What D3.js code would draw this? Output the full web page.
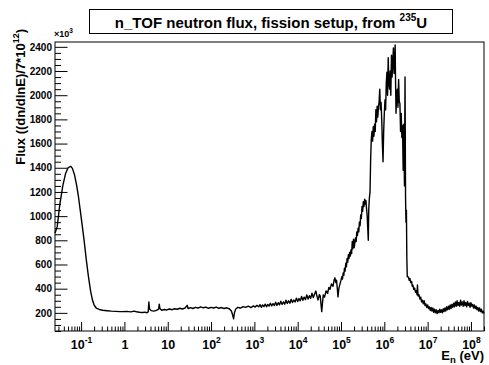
<!DOCTYPE html>
<html>
<head>
<meta charset="utf-8">
<title>n_TOF flux</title>
<script src="https://cdn.jsdelivr.net/npm/d3@7"></script>
<style>
  body { margin: 0; background: #fff; }
  text { font-family: "Liberation Sans", Arial, sans-serif; font-weight: bold; }
</style>
</head>
<body>
<script>
// data: [log10(E/eV), flux in units of 1e3]
const thermal = [
  [-1.60, 860], [-1.55, 915], [-1.49, 1100], [-1.42, 1255], [-1.36, 1350], [-1.30, 1400],
  [-1.24, 1412], [-1.20, 1395], [-1.15, 1340], [-1.10, 1250], [-1.06, 1160], [-1.02, 1050],
  [-0.98, 940], [-0.93, 800], [-0.88, 640], [-0.83, 500], [-0.78, 380], [-0.74, 310],
  [-0.70, 265], [-0.65, 240], [-0.58, 228], [-0.50, 222], [-0.40, 218], [-0.30, 214],
  [-0.20, 212], [-0.10, 210]
];
const epithermal = [
  [-0.05, 210], [0.05, 212], [0.15, 208], [0.22, 214], [0.28, 209], [0.35, 205], [0.42, 203],
  [0.48, 206], [0.52, 200], [0.55, 210], [0.565, 290], [0.58, 232], [0.62, 218], [0.68, 214],
  [0.74, 220], [0.79, 230], [0.805, 272], [0.82, 236], [0.86, 222], [0.92, 228], [0.98, 224],
  [1.04, 232], [1.10, 226], [1.16, 234], [1.22, 230], [1.28, 238], [1.34, 232], [1.40, 240],
  [1.45, 262], [1.47, 236], [1.53, 244], [1.58, 236], [1.64, 246], [1.70, 240], [1.76, 250],
  [1.82, 242], [1.88, 248], [1.94, 238], [2.00, 246], [2.06, 240], [2.12, 248], [2.18, 238],
  [2.24, 244], [2.30, 236], [2.36, 242], [2.42, 234], [2.47, 215], [2.50, 180], [2.52, 150],
  [2.54, 200], [2.57, 232], [2.62, 246], [2.68, 240], [2.74, 252], [2.80, 246], [2.86, 256],
  [2.92, 244], [2.98, 258], [3.02, 248], [3.06, 262], [3.10, 250], [3.13, 268], [3.16, 246],
  [3.19, 266], [3.22, 252], [3.25, 272], [3.28, 250], [3.31, 270], [3.34, 256], [3.37, 280],
  [3.40, 258], [3.43, 276], [3.46, 260], [3.49, 288], [3.52, 262], [3.55, 284], [3.58, 266],
  [3.61, 296], [3.64, 270], [3.67, 290], [3.70, 272], [3.73, 304], [3.76, 278], [3.79, 300],
  [3.82, 280], [3.85, 312], [3.88, 286], [3.91, 306], [3.94, 290], [3.97, 322], [4.00, 294],
  [4.03, 318], [4.06, 300], [4.09, 336], [4.12, 304], [4.15, 330], [4.18, 310], [4.21, 348],
  [4.24, 314], [4.27, 342], [4.30, 320], [4.33, 362], [4.36, 326], [4.39, 356], [4.42, 380],
  [4.45, 330], [4.47, 307], [4.50, 350], [4.52, 340], [4.555, 210]
];
const fast = [
  [4.59, 349], [4.62, 330], [4.655, 382], [4.69, 360], [4.72, 410], [4.746, 395], [4.78, 440],
  [4.816, 420], [4.84, 470], [4.86, 490], [4.88, 450], [4.897, 470], [4.92, 380], [4.93, 332],
  [4.95, 400], [4.977, 440], [5.00, 470], [5.02, 500], [5.035, 480], [5.05, 530], [5.065, 510],
  [5.08, 570], [5.095, 545], [5.11, 610], [5.125, 580], [5.14, 650], [5.155, 620], [5.17, 680],
  [5.185, 650], [5.20, 700], [5.215, 670], [5.23, 720], [5.245, 690], [5.26, 790], [5.275, 730],
  [5.29, 810], [5.305, 740], [5.32, 780], [5.335, 820], [5.35, 790], [5.365, 870], [5.38, 840],
  [5.395, 900], [5.41, 870], [5.425, 950], [5.44, 920], [5.455, 1010], [5.47, 980],
  [5.485, 1080], [5.50, 1040], [5.515, 1120], [5.53, 1080], [5.545, 1140], [5.56, 1100],
  [5.575, 1130], [5.59, 1060], [5.605, 1000], [5.62, 880], [5.63, 800], [5.64, 1050],
  [5.655, 1150], [5.67, 1200], [5.685, 1480], [5.70, 1640], [5.715, 1700], [5.73, 1620],
  [5.745, 1740], [5.76, 1660], [5.775, 1760], [5.79, 1700], [5.805, 1880], [5.82, 1780],
  [5.835, 1910], [5.85, 1820], [5.865, 1900], [5.88, 1950], [5.895, 2050], [5.91, 1880],
  [5.925, 1940], [5.94, 1800], [5.955, 1600], [5.97, 1450], [5.985, 1700], [6.00, 1850],
  [6.015, 1960], [6.03, 1880], [6.045, 2100], [6.06, 2190], [6.075, 2000], [6.09, 2310],
  [6.105, 2100], [6.12, 2050], [6.135, 2200], [6.15, 2000], [6.165, 2330], [6.18, 2150],
  [6.195, 2280], [6.21, 2390], [6.225, 2180], [6.24, 2300], [6.25, 2415], [6.26, 2100],
  [6.27, 1850], [6.285, 2000], [6.30, 2050], [6.315, 1900], [6.33, 2130], [6.345, 1950],
  [6.36, 1930], [6.375, 1700], [6.39, 1850], [6.405, 1650], [6.42, 1750], [6.435, 1380],
  [6.45, 1760], [6.465, 1250], [6.478, 2150], [6.49, 1150], [6.50, 950], [6.51, 1050],
  [6.52, 650], [6.53, 498]
];
const tail = [
  [6.555, 498], [6.575, 470], [6.59, 485], [6.61, 450], [6.63, 460], [6.645, 420], [6.66, 430],
  [6.68, 395], [6.70, 405], [6.72, 370], [6.74, 385], [6.755, 350], [6.765, 430], [6.78, 340],
  [6.80, 350], [6.82, 315], [6.84, 330], [6.86, 290], [6.88, 305], [6.90, 275], [6.92, 300],
  [6.94, 260], [6.96, 275], [6.98, 245], [7.00, 265], [7.02, 235], [7.04, 250], [7.06, 220],
  [7.08, 245], [7.10, 215], [7.12, 240], [7.14, 205], [7.16, 230], [7.18, 200], [7.20, 225],
  [7.22, 195], [7.24, 220], [7.26, 200], [7.28, 230], [7.30, 205], [7.32, 225], [7.34, 200],
  [7.36, 235], [7.38, 210], [7.40, 240], [7.42, 215], [7.44, 250], [7.46, 225], [7.48, 255],
  [7.50, 230], [7.52, 265], [7.54, 235], [7.56, 270], [7.58, 245], [7.60, 280], [7.62, 250],
  [7.64, 290], [7.66, 255], [7.68, 300], [7.70, 260], [7.72, 285], [7.74, 255], [7.76, 305],
  [7.78, 265], [7.80, 290], [7.82, 255], [7.84, 300], [7.86, 260], [7.88, 285], [7.90, 250],
  [7.92, 295], [7.94, 260], [7.96, 280], [7.98, 245], [8.00, 285], [8.02, 255], [8.04, 270],
  [8.06, 240], [8.08, 265], [8.10, 235], [8.12, 255], [8.14, 225], [8.16, 245], [8.18, 215],
  [8.20, 240], [8.22, 210], [8.24, 230], [8.26, 200], [8.28, 215], [8.30, 195]
];
const xMajor = [-1, 0, 1, 2, 3, 4, 5, 6, 7, 8];
const yMajor = [200, 400, 600, 800, 1000, 1200, 1400, 1600, 1800, 2000, 2200, 2400];

const W = 489, H = 365;
const fl = 55, fr = 484, ft = 42, fb = 331;

const x = d3.scaleLog().domain([0.025, 2e8]).range([fl, fr]);
const y = d3.scaleLinear().domain([50, 2440]).range([fb, ft]);

const svg = d3.select("body").append("svg").attr("width", W).attr("height", H);

// x minor ticks
const xMinor = [];
for (let e = -2; e <= 8; e++) {
  for (let m = 2; m <= 9; m++) {
    const v = m * Math.pow(10, e);
    if (v >= 0.025 && v <= 2e8) xMinor.push(v);
  }
}
const yMinor = d3.range(50, 2441, 50).filter(v => v % 200 !== 0);

svg.append("g").attr("transform", `translate(0,${fb})`)
  .call(d3.axisBottom(x).tickValues(xMinor).tickSize(-4.5).tickFormat(""))
  .call(g => g.select(".domain").remove());

const xa = svg.append("g").attr("transform", `translate(0,${fb})`)
  .call(d3.axisBottom(x).tickValues(xMajor.map(e => Math.pow(10, e))).tickSize(-9).tickFormat(""))
  .call(g => g.select(".domain").remove());

// x tick labels
xa.selectAll(".tick").each(function (d, i) {
  const e = xMajor[i];
  const t = d3.select(this).append("text")
    .attr("fill", "#000").attr("y", 18).attr("font-size", 12.5).attr("text-anchor", "middle");
  if (e === 0) t.text("1");
  else if (e === 1) t.text("10");
  else {
    t.append("tspan").text("10");
    t.append("tspan").attr("dy", -6).attr("font-size", 8.5).text(e);
  }
});

svg.append("g").attr("transform", `translate(${fl},0)`)
  .call(d3.axisLeft(y).tickValues(yMinor).tickSize(-6).tickFormat(""))
  .call(g => g.select(".domain").remove());

svg.append("g").attr("transform", `translate(${fl},0)`)
  .call(d3.axisLeft(y).tickValues(yMajor).tickSize(-12.5).tickPadding(3).tickFormat(d3.format("d")))
  .call(g => g.select(".domain").remove())
  .call(g => g.selectAll("text").attr("font-size", 10).attr("font-family", "Liberation Sans").attr("font-weight", "bold"));

svg.selectAll(".tick line").attr("stroke", "#000");

// frame
svg.append("rect").attr("x", fl).attr("y", ft).attr("width", fr - fl).attr("height", fb - ft)
  .attr("fill", "none").attr("stroke", "#000").attr("stroke-width", 1);

// curve
const pts = thermal.concat(epithermal, fast, tail);
const line = d3.line().x(d => x(Math.pow(10, d[0]))).y(d => y(d[1]));
svg.append("path").datum(pts).attr("d", line)
  .attr("fill", "none").attr("stroke", "#000").attr("stroke-width", 1.4).attr("stroke-linejoin", "round");

// x10^3
const k = svg.append("text").attr("x", 54).attr("y", 37).attr("font-size", 9).attr("font-weight", "normal");
k.append("tspan").text("\u00d710");
k.append("tspan").attr("dy", -4).attr("font-size", 6.5).text("3");

// axis titles
const yt = svg.append("text").attr("transform", "translate(25,29) rotate(-90)")
  .attr("text-anchor", "end").attr("font-size", 13);
yt.append("tspan").text("Flux ((dn/dlnE)/7*10");
yt.append("tspan").attr("dy", -6).attr("font-size", 9).text("12");
yt.append("tspan").attr("dy", 6).text(")");

const xt = svg.append("text").attr("x", fr).attr("y", 360).attr("text-anchor", "end").attr("font-size", 13);
xt.append("tspan").text("E");
xt.append("tspan").attr("dy", 3).attr("font-size", 9.5).text("n");
xt.append("tspan").attr("dy", -3).text(" (eV)");

// title box
svg.append("rect").attr("x", 89.5).attr("y", 9.5).attr("width", 363).attr("height", 24)
  .attr("fill", "#fff").attr("stroke", "#000").attr("stroke-width", 1);
const tt = svg.append("text").attr("x", 271).attr("y", 28).attr("text-anchor", "middle").attr("font-size", 15);
tt.append("tspan").text("n_TOF neutron flux, fission setup, from ");
tt.append("tspan").attr("dy", -7).attr("font-size", 10).text("235");
tt.append("tspan").attr("dy", 7).text("U");
</script>
</body>
</html>
